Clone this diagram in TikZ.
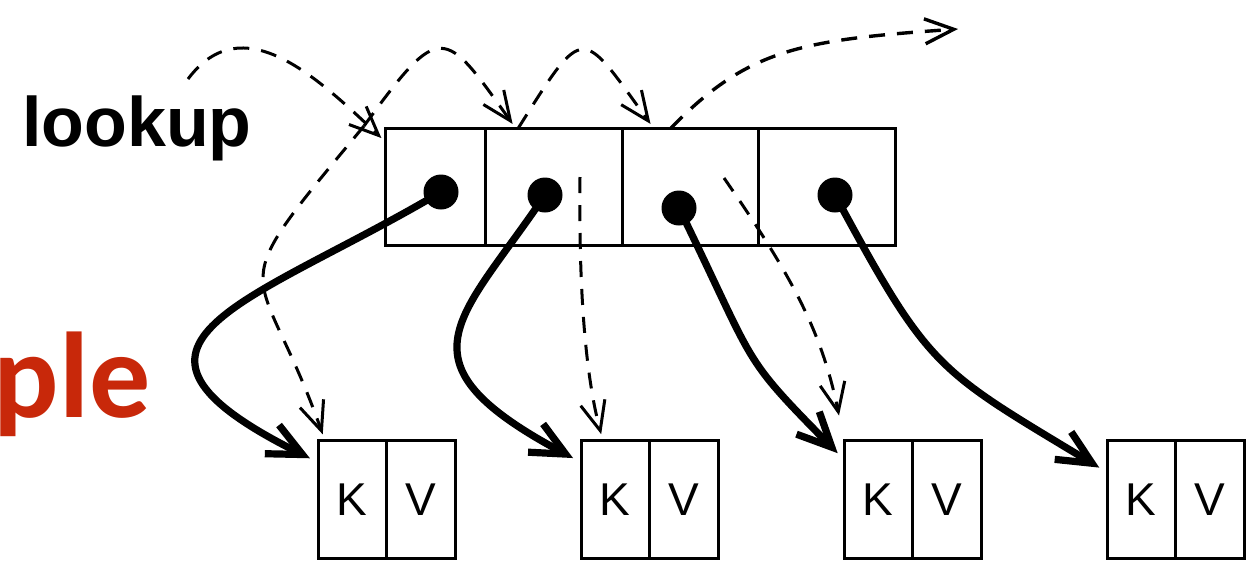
\documentclass[tikz,border=0pt]{standalone}
\usepackage{fontspec}
\setmainfont{Liberation Sans}
\newfontfamily\calibri{Carlito}
\usetikzlibrary{arrows.meta}
\definecolor{titlered}{RGB}{200,40,10}

\begin{document}
\begin{tikzpicture}[x=1pt,y=-1pt,
  cell/.style={draw, line width=3pt, minimum width=#1, minimum height=117pt,
               inner sep=0pt, outer sep=0pt},
  half/.style={draw, line width=3pt, minimum width=68.5pt, minimum height=118pt,
               inner sep=0pt, outer sep=0pt, text height=33pt, text depth=0pt,
               font=\fontsize{46}{52}\selectfont},
  dot/.style={circle, fill, minimum size=35pt, inner sep=0pt},
  pointer/.style={line width=7.2pt, shorten >=9pt,
                  -{Straight Barb[length=34pt,width=32pt]}},
  probe/.style={line width=3pt, dash pattern=on 16pt off 12pt,
                -{Straight Barb[length=29pt,width=25pt]}},
]
\useasboundingbox (0,0) rectangle (1258,574);

% labels
\node[anchor=base west, inner sep=0pt,
      font=\bfseries\fontsize{70}{84}\selectfont] (lk) at (22,146) {lookup};
\node[anchor=base east, inner sep=0pt, text=titlered,
      font=\calibri\bfseries\fontsize{122}{140}\selectfont] (ex) at (151,417) {ple};

% bucket array
\node[cell=100pt] (c1) at (435,186.5) {};
\node[cell=137pt] (c2) at (553.5,186.5) {};
\node[cell=136pt] (c3) at (690,186.5) {};
\node[cell=137pt] (c4) at (826.5,186.5) {};

% key/value entries
\node[half] (k1) at (352.25,499) {K};
\node[half] (v1) at (420.75,499) {V};
\node[half] (k2) at (615.25,499) {K};
\node[half] (v2) at (683.75,499) {V};
\node[half] (k3) at (878.25,499) {K};
\node[half] (v3) at (946.75,499) {V};
\node[half] (k4) at (1141.25,499) {K};
\node[half] (v4) at (1209.75,499) {V};

% free ends of the probe path
\coordinate (j0) at (188,79);
\coordinate (j1) at (364,126);
\coordinate (j4) at (958,29);
\coordinate (s2) at (580,177);
\coordinate (s3) at (724,178);

% probe sequence along the array
\draw[probe, shorten >=5pt] (j0) .. controls (242,7) and (315,75) .. (c1.138);
\draw[probe, shorten >=5pt] (j1) .. controls (441,20) and (443.5,27) .. (c2.123);
\draw[probe, shorten >=5pt] (c2.121) .. controls (585,22) and (580.5,27) .. (c3.122);
\draw[probe, line width=3.4pt] (c3.108) .. controls (748,49) and (800,40) .. (j4);

% key comparisons
\draw[probe, shorten >=6pt] (j1) .. controls (215,305) and (258,252) .. (k1.115);
\draw[probe, shorten >=6pt] (s2) .. controls (579,260) and (582,362) .. (k2.102);
\draw[probe, shorten >=25pt] (s3) .. controls (792,276) and (822,332) .. (k3.north west);

% bucket pointers
\node[dot] (p1) at (441,192) {};
\node[dot] (p2) at (545,195) {};
\node[dot] (p3) at (679,208) {};
\node[dot] (p4) at (835,195) {};

\draw[pointer] (p1.center) .. controls (252,304) and (76,342) .. (k1.133);
\draw[pointer] (p2.center) .. controls (461,320) and (391,361) .. (k2.133);
\draw[pointer] (p3.center) .. controls (758,370) and (739,353) .. (k3.131);
\draw[pointer] (p4.center) .. controls (930,371) and (936,369) .. (k4.142);
\end{tikzpicture}
\end{document}
